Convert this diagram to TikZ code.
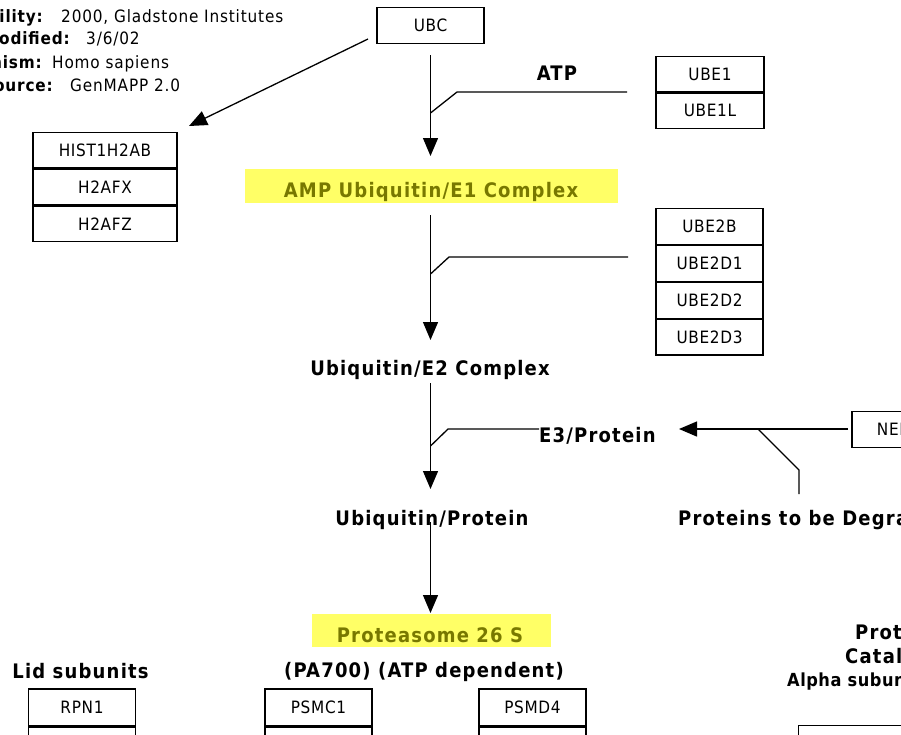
\documentclass[tikz,border=0pt]{standalone}
\usepackage{fontspec}
\setmainfont{DejaVu Sans Condensed}
\usetikzlibrary{arrows.meta,calc}
\definecolor{hilite}{RGB}{255,255,102}
\definecolor{olivetext}{RGB}{120,120,0}
\begin{document}
\begin{tikzpicture}[x=1pt,y=-1pt,
  gene/.style={draw, line width=1.2pt, minimum width=107pt, minimum height=35.7pt,
    inner sep=0pt, font=\fontsize{17}{17}\selectfont\addfontfeatures{LetterSpace=4}},
  lbl/.style={font=\bfseries\fontsize{20}{20}\selectfont\addfontfeatures{LetterSpace=6},
    inner sep=0pt, anchor=base},
  small/.style={font=\bfseries\fontsize{18}{18}\selectfont\addfontfeatures{LetterSpace=3},
    inner sep=0pt, anchor=base west},
  hl/.style={fill=hilite, inner sep=0pt},
  info/.style={font=\fontsize{17}{17}\selectfont\addfontfeatures{LetterSpace=5},
    inner sep=0pt, anchor=base west},
  infokey/.style={font=\bfseries\fontsize{17}{17}\selectfont\addfontfeatures{LetterSpace=5},
    inner sep=0pt, anchor=base east},
  wire/.style={line width=1.3pt},
  arr/.style={wire, -{Triangle[length=18pt,width=15pt]}},
]
\useasboundingbox (0,0) rectangle (901,734);
\clip (0,0) rectangle (901,734);

% pathway information
\node[infokey] (k1) at (43,22.5) {Availability:};
\node[info]    (v1) at (61,22.5) {2000, Gladstone Institutes};
\node[infokey] (k2) at (70,44.5) {Last modified:};
\node[info]    (v2) at (86,44.5) {3/6/02};
\node[infokey] (k3) at (42,68.5) {Organism:};
\node[info]    (v3) at (52,68.5) {Homo sapiens};
\node[infokey] (k4) at (53,91.5) {Data source:};
\node[info]    (v4) at (70,91.5) {GenMAPP 2.0};

% gene boxes
\node[gene] (ubc) at (430.5,25.5) {UBC};
\node[gene, minimum width=144pt] (h1) at (105,150) {HIST1H2AB};
\node[gene, minimum width=144pt, anchor=north] (h2) at (h1.south) {H2AFX};
\node[gene, minimum width=144pt, anchor=north] (h3) at (h2.south) {H2AFZ};
\node[gene, minimum width=108pt] (e1a) at (710,74) {UBE1};
\node[gene, minimum width=108pt, anchor=north] (e1b) at (e1a.south) {UBE1L};
\node[gene] (e2a) at (709.5,226.5) {UBE2B};
\node[gene, anchor=north] (e2b) at (e2a.south) {UBE2D1};
\node[gene, anchor=north] (e2c) at (e2b.south) {UBE2D2};
\node[gene, anchor=north] (e2d) at (e2c.south) {UBE2D3};
\node[gene] (ne) at (905.5,429.5) {NEDD4};
\node[gene, minimum height=37pt] (rpn1) at (82,707.5) {RPN1};
\node[gene, minimum height=37pt, anchor=north] (rpn2) at (rpn1.south) {RPN2};
\node[gene, minimum height=37pt] (psmc1) at (318.5,707.5) {PSMC1};
\node[gene, minimum height=37pt, anchor=north] (psmc2) at (psmc1.south) {PSMC2};
\node[gene, minimum height=37pt] (psmd4) at (532.5,707.5) {PSMD4};
\node[gene, minimum height=37pt, anchor=north] (psmd5) at (psmd4.south) {PSMD5};
\node[gene, minimum height=37pt, anchor=north west] (psma1) at (798,725) {PSMA1};

% highlighted labels
\node[hl, minimum width=373pt, minimum height=34pt] (amphl) at (431.5,186) {};
\node[lbl, text=olivetext] (amp) at (431,197) {AMP Ubiquitin/E1 Complex};
\node[hl, minimum width=239pt, minimum height=33pt] (p26hl) at (431.5,630.5) {};
\node[lbl, text=olivetext] (p26) at (430,642) {Proteasome 26 S};

% plain labels
\node[lbl] (atp) at (557,80) {ATP};
\node[lbl] (ube2c) at (430,375) {Ubiquitin/E2 Complex};
\node[lbl, anchor=base west] (e3p) at (539,442) {E3/Protein};
\node[lbl] (ubp) at (432,525) {Ubiquitin/Protein};
\node[lbl, anchor=base west] (ptbd) at (678,525) {Proteins to be Degraded};
\node[lbl] (pa700) at (424,677) {(PA700) (ATP dependent)};
\node[lbl] (lid) at (80.5,678) {Lid subunits};
\node[lbl, anchor=base west] (cp1) at (855,639) {Proteasome 20 S};
\node[lbl, anchor=base west] (cp2) at (845,663) {Catalytic Core};
\node[small] (alpha) at (787,686) {Alpha subunits};

% junction points of the reaction lines
\coordinate (s1) at (430.5,55);
\coordinate (t1) at (430.5,156);
\coordinate (j1) at (430.5,113);
\coordinate (b1) at (457,92);
\coordinate (c1) at (627,92);
\coordinate (s2) at (430.5,215);
\coordinate (t2) at (430.5,340);
\coordinate (j2) at (430.5,274);
\coordinate (b2) at (449,257);
\coordinate (c2) at (628,257);
\coordinate (s3) at (430.5,383);
\coordinate (t3) at (430.5,489);
\coordinate (j3) at (430.5,446);
\coordinate (b3) at (448,429);
\coordinate (s4) at (430.5,522);
\coordinate (t4) at (430.5,613);
\coordinate (u1) at (368,39);
\coordinate (u2) at (189,126);
\coordinate (n1) at (848,429);
\coordinate (n2) at (679,429);
\coordinate (d1) at (758,429);
\coordinate (d2) at (799,470);
\coordinate (d3) at (799,494);

% reactions
\draw[arr] (u1) -- (u2);
\draw[arr] (s1) -- (t1);
\draw[wire] (j1) -- (b1) -- (c1);
\draw[arr] (s2) -- (t2);
\draw[wire] (j2) -- (b2) -- (c2);
\draw[arr] (s3) -- (t3);
\draw[wire] (j3) -- (b3) -- (e3p.west |- b3);
\draw[arr] (s4) -- (t4);
\draw[arr] (n1) -- (n2);
\draw[wire] (d1) -- (d2) -- (d3);
\end{tikzpicture}
\end{document}
